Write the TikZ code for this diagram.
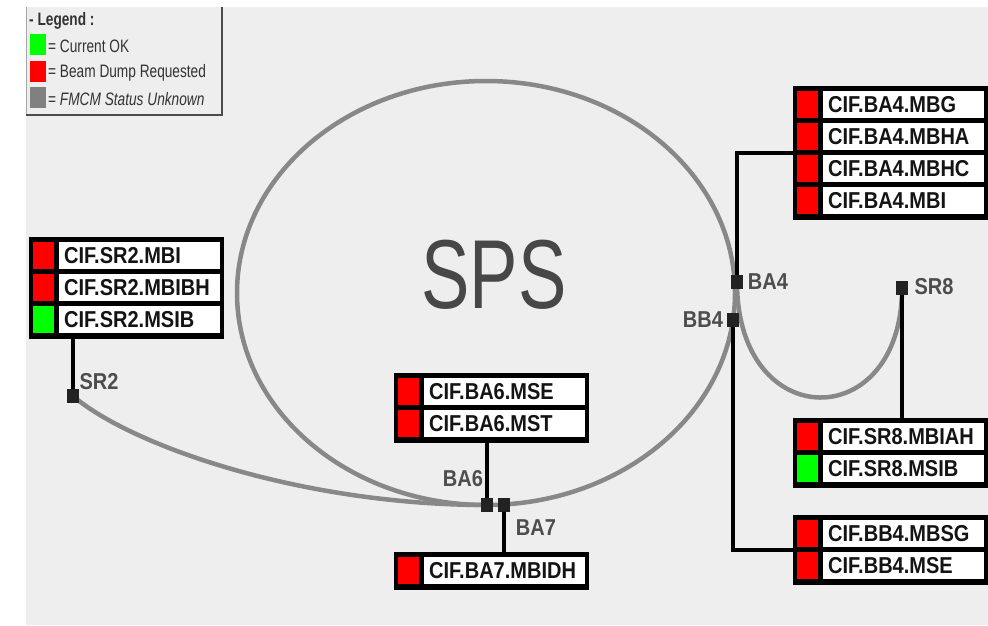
\documentclass[tikz,border=0pt]{standalone}
\usepackage{fontspec}
\setmainfont{Liberation Sans}
\newfontfamily\boxfont[FakeStretch=0.87]{Liberation Sans}
\newfontfamily\legfont[FakeStretch=0.76]{Liberation Sans}
\newfontfamily\spsfont[FakeStretch=0.74]{Liberation Sans}
\definecolor{bg}{HTML}{EEEEEE}
\definecolor{beam}{HTML}{888888}
\definecolor{mk}{HTML}{222222}
\definecolor{lblc}{HTML}{4D4D4D}
\definecolor{legtext}{HTML}{333333}
\definecolor{okgreen}{HTML}{00FF00}
\definecolor{dumpred}{HTML}{FF0000}
\definecolor{unk}{HTML}{808080}
\newcommand\cifrow[5]{%
  \node[sq,fill=#4] (s#1) at (#2+4,#3) {};
  \node[cell] (t#1) at (#2+30,#3) {#5};}
\begin{document}
\begin{tikzpicture}[x=1pt,y=-1pt,
  outer/.style={fill=black,anchor=north west,inner sep=0pt,minimum width=195pt},
  sq/.style={anchor=north west,inner sep=0pt,minimum width=21pt,minimum height=27pt},
  cell/.style={fill=white,anchor=north west,inner xsep=5pt,inner ysep=0pt,text width=151pt,minimum height=27pt,align=left,text=black!92,font=\boxfont\bfseries\fontsize{23}{23}\selectfont},
  marker/.style={fill=mk,inner sep=0pt,minimum width=11pt,minimum height=14pt},
  lbl/.style={text=lblc,inner sep=0pt,font=\boxfont\bfseries\fontsize{23}{23}\selectfont},
  beamline/.style={draw=beam,line width=4.5pt},
  conn/.style={draw=black,line width=4.5pt},
  legsq/.style={inner sep=0pt,minimum width=16pt,minimum height=21pt},
  legtxt/.style={anchor=west,inner sep=0pt,text=legtext,font=\legfont\fontsize{18}{18}\selectfont},
]
\useasboundingbox (0,0) rectangle (988,625);
\fill[white] (0,0) rectangle (988,625);
\fill[bg] (26,7) rectangle (988,625);

% legend
\node[fill=bg,anchor=north west,inner sep=0pt,minimum width=196pt,minimum height=108pt] (legend) at (26,7) {};
\draw[unk!70,line width=1pt] (legend.north west) -- (legend.south west);
\draw[black!70,line width=2pt] (legend.north east) -- (legend.south east) -- (legend.south west);
\node[anchor=west,inner sep=0pt,text=legtext,font=\legfont\bfseries\fontsize{18}{18}\selectfont] (lgh) at (29,21) {- Legend :};
\node[legsq,fill=okgreen] (lg1) at (37.5,44.5) {};
\node[legtxt] (lt1) at (48,46) {= Current OK};
\node[legsq,fill=dumpred] (lg2) at (37.5,71) {};
\node[legtxt] (lt2) at (48,72.5) {= Beam Dump Requested};
\node[legsq,fill=unk] (lg3) at (37.5,97.5) {};
\node[legtxt] (lt3) at (48,99) {= \itshape FMCM Status Unknown};

% SPS ring
\draw[beamline] (486,293) ellipse [x radius=249, y radius=212];
\node[text=legtext!90,inner sep=0pt,font=\spsfont\fontsize{98}{98}\selectfont] (sps) at (494,275) {SPS};

% markers
\node[marker] (mSR2) at (73,396) {};
\node[marker] (mBA6) at (487,505) {};
\node[marker] (mBA7) at (504,505) {};
\node[marker] (mBA4) at (737,282) {};
\node[marker] (mBB4) at (733,320) {};
\node[marker] (mSR8) at (902,288) {};

% beam lines
\draw[beamline] (mSR2.center) .. controls (130,445) and (300,505) .. (mBA6.center);
\draw[beamline] (mBA4.center) .. controls (737,435) and (902,435) .. (mSR8.center);

% groups
\node[outer,minimum height=102pt] (gSR2) at (29,237) {};
\node[outer,minimum height=70pt] (gBA6) at (394,373) {};
\node[outer,minimum height=38pt] (gBA7) at (394,552) {};
\node[outer,minimum height=134pt] (gBA4) at (793,86) {};
\node[outer,minimum height=70pt] (gSR8) at (793,418) {};
\node[outer,minimum height=70pt] (gBB4) at (793,515) {};

% connectors
\draw[conn] (gSR2.south -| mSR2) -- (mSR2.center);
\draw[conn] (gBA6.south -| mBA6) -- (mBA6.center);
\draw[conn] (mBA7.center) -- (gBA7.north -| mBA7);
\draw[conn] (mBA4.center) |- (gBA4.west);
\draw[conn] (mBB4.center) |- (gBB4.west);
\draw[conn] (mSR8.center) -- (gSR8.north -| mSR8);

% markers on top
\foreach \m in {mSR2,mBA6,mBA7,mBA4,mBB4,mSR8}{\fill[mk] (\m.south west) rectangle (\m.north east);}

% rows
\cifrow{SRa}{29}{242}{dumpred}{CIF.SR2.MBI}
\cifrow{SRb}{29}{274}{dumpred}{CIF.SR2.MBIBH}
\cifrow{SRc}{29}{306}{okgreen}{CIF.SR2.MSIB}
\cifrow{BAa}{394}{378}{dumpred}{CIF.BA6.MSE}
\cifrow{BAb}{394}{410}{dumpred}{CIF.BA6.MST}
\cifrow{BSa}{394}{557}{dumpred}{CIF.BA7.MBIDH}
\cifrow{BFa}{793}{91}{dumpred}{CIF.BA4.MBG}
\cifrow{BFb}{793}{123}{dumpred}{CIF.BA4.MBHA}
\cifrow{BFc}{793}{155}{dumpred}{CIF.BA4.MBHC}
\cifrow{BFd}{793}{187}{dumpred}{CIF.BA4.MBI}
\cifrow{SEa}{793}{423}{dumpred}{CIF.SR8.MBIAH}
\cifrow{SEb}{793}{455}{okgreen}{CIF.SR8.MSIB}
\cifrow{BBa}{793}{520}{dumpred}{CIF.BB4.MBSG}
\cifrow{BBb}{793}{552}{dumpred}{CIF.BB4.MSE}

% labels
\node[lbl] (lSR2) at (99,382) {SR2};
\node[lbl] (lBA6) at (463,479) {BA6};
\node[lbl] (lBA7) at (536,528) {BA7};
\node[lbl] (lBA4) at (768,282) {BA4};
\node[lbl] (lBB4) at (703,320) {BB4};
\node[lbl] (lSR8) at (934,287) {SR8};
\end{tikzpicture}
\end{document}
